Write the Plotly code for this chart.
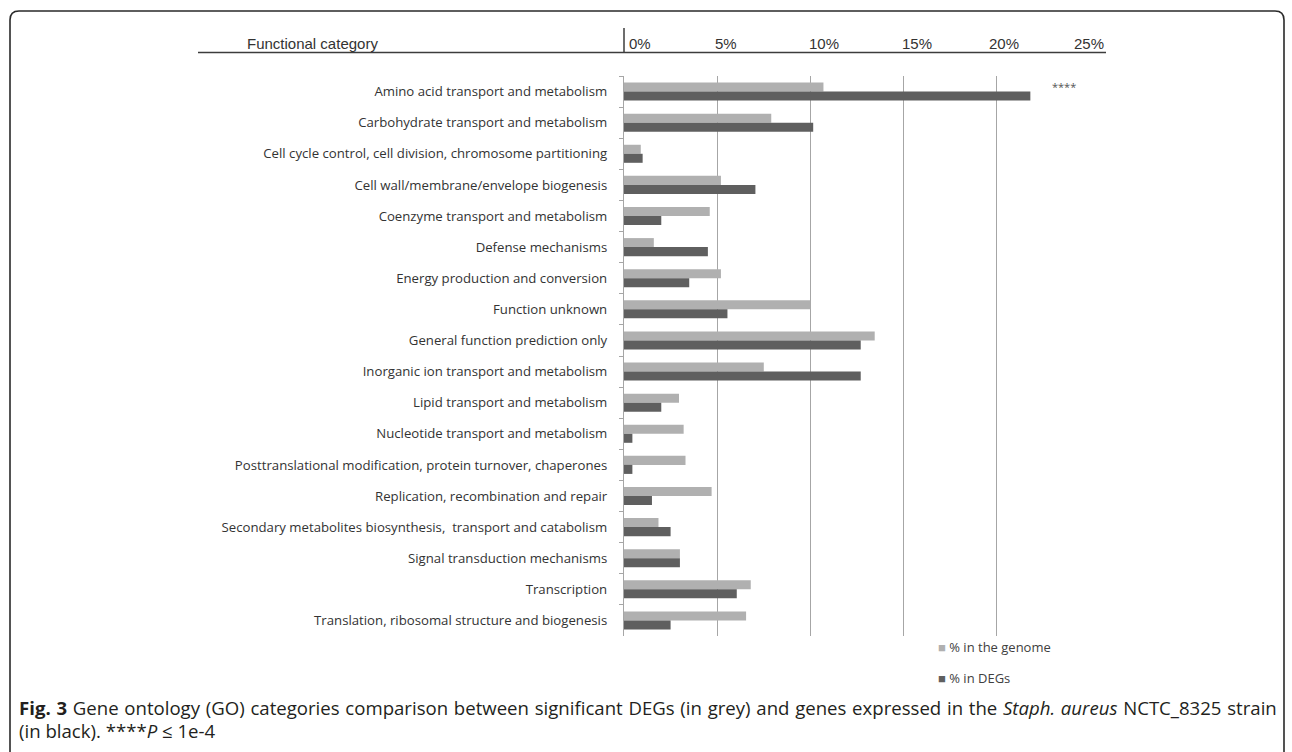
import plotly.graph_objects as go

categories = [
    "Amino acid transport and metabolism",
    "Carbohydrate transport and metabolism",
    "Cell cycle control, cell division, chromosome partitioning",
    "Cell wall/membrane/envelope biogenesis",
    "Coenzyme transport and metabolism",
    "Defense mechanisms",
    "Energy production and conversion",
    "Function unknown",
    "General function prediction only",
    "Inorganic ion transport and metabolism",
    "Lipid transport and metabolism",
    "Nucleotide transport and metabolism",
    "Posttranslational modification, protein turnover, chaperones",
    "Replication, recombination and repair",
    "Secondary metabolites biosynthesis,  transport and catabolism",
    "Signal transduction mechanisms",
    "Transcription",
    "Translation, ribosomal structure and biogenesis",
]
pct_genome = [10.7, 7.9, 0.9, 5.2, 4.6, 1.6, 5.2, 10.0, 13.45, 7.5, 2.95, 3.2, 3.3, 4.7, 1.85, 3.0, 6.8, 6.55]
pct_degs = [21.8, 10.15, 1.0, 7.05, 2.0, 4.5, 3.5, 5.55, 12.7, 12.7, 2.0, 0.45, 0.45, 1.5, 2.5, 3.0, 6.05, 2.5]
header_ticks = ["0%", "5%", "10%", "15%", "20%", "25%"]
header_tick_px = [627, 713, 807, 900, 987, 1072]
legend_names = ["% in the genome", "% in DEGs"]
colors = ["#b0b0b0", "#5f5f5f"]

W, H = 1292, 752
L, R, T, B = 624, 1090, 76, 636
PW, PH = R - L, B - T


def px(x):
    return (x - L) / PW


def py(y):
    return (B - y) / PH


fig = go.Figure()
fig.add_trace(go.Bar(x=pct_genome, y=categories, orientation="h", name=legend_names[0],
                     marker=dict(color=colors[0], line=dict(width=0)), showlegend=False))
fig.add_trace(go.Bar(x=pct_degs, y=categories, orientation="h", name=legend_names[1],
                     marker=dict(color=colors[1], line=dict(width=0)), showlegend=False))

shapes = []
# rounded border
r = 9
x0, y0, x1, y1 = 10, 11, 1284, 800
path = (f"M {px(x0)},{py(y1)} L {px(x0)},{py(y0 + r)} Q {px(x0)},{py(y0)} {px(x0 + r)},{py(y0)} "
        f"L {px(x1 - r)},{py(y0)} Q {px(x1)},{py(y0)} {px(x1)},{py(y0 + r)} L {px(x1)},{py(y1)}")
shapes.append(dict(type="path", xref="paper", yref="paper", path=path,
                   line=dict(color="#2a2a2a", width=1.6)))
# header lines
shapes.append(dict(type="line", xref="paper", yref="paper", x0=px(198), x1=px(1106),
                   y0=py(52.5), y1=py(52.5), line=dict(color="#3c3c3c", width=1.5)))
shapes.append(dict(type="line", xref="paper", yref="paper", x0=px(624), x1=px(624),
                   y0=py(28), y1=py(53), line=dict(color="#3c3c3c", width=1.5)))

annotations = []
annotations.append(dict(xref="paper", yref="paper", x=px(245), y=py(44), xanchor="left", yanchor="middle",
                        text="Functional category", showarrow=False,
                        font=dict(family="Liberation Sans", size=15, color="#333333")))
for lab, xp in zip(header_ticks, header_tick_px):
    annotations.append(dict(xref="paper", yref="paper", x=px(xp), y=py(44), xanchor="left", yanchor="middle",
                            text=lab, showarrow=False,
                            font=dict(family="Liberation Sans", size=15, color="#333333")))
# significance marker
annotations.append(dict(xref="x", yref="y", x=23.6, y=categories[0], yshift=5, xanchor="center",
                        yanchor="middle", text="****", showarrow=False,
                        font=dict(family="Open Sans", size=11, color="#555555")))
# legend
for name, col, yy in zip(legend_names, colors, [646.7, 678]):
    annotations.append(dict(xref="paper", yref="paper", x=px(936), y=py(yy), xanchor="left", yanchor="middle",
                            text=f"<span style='color:{col}'>■</span> {name}", showarrow=False,
                            font=dict(family="Open Sans", size=13, color="#404040")))
# caption
annotations.append(dict(xref="paper", yref="paper", x=px(17), y=py(707), xanchor="left", yanchor="middle",
                        text=("<span style='word-spacing:0.9px'><b>Fig. 3</b> Gene ontology (GO) categories "
                              "comparison between significant DEGs (in grey) and genes expressed in the "
                              "<i>Staph. aureus</i> NCTC_8325 strain</span>"),
                        showarrow=False, font=dict(family="Open Sans", size=18.6, color="#231f20")))
annotations.append(dict(xref="paper", yref="paper", x=px(17), y=py(730), xanchor="left", yanchor="middle",
                        text="(in black). ****<i>P</i> ≤ 1e-4",
                        showarrow=False, font=dict(family="Open Sans", size=18.6, color="#231f20")))

fig.update_layout(
    width=W, height=H,
    margin=dict(l=L, r=W - R, t=T, b=H - B, pad=0),
    paper_bgcolor="white", plot_bgcolor="white",
    barmode="group", bargap=0.42, bargroupgap=0,
    shapes=shapes, annotations=annotations,
    xaxis=dict(range=[0, 25], dtick=5, showgrid=True, gridcolor="#a6a6a6", gridwidth=1.3,
               showticklabels=False, zeroline=False, showline=False, ticks="", fixedrange=True),
    yaxis=dict(type="category", categoryorder="array", categoryarray=categories, autorange="reversed",
               showline=True, linecolor="#a6a6a6", linewidth=1.3, ticks="outside", tickson="boundaries",
               ticklen=4, tickcolor="#a6a6a6", tickwidth=1, ticklabelstandoff=13,
               tickfont=dict(family="Open Sans", size=13.2, color="#333333"), showgrid=False),
    showlegend=False,
)

fig.write_html("out.html", config={"displayModeBar": False},
               post_script="document.body.style.margin='0';document.body.style.overflow='hidden';")
